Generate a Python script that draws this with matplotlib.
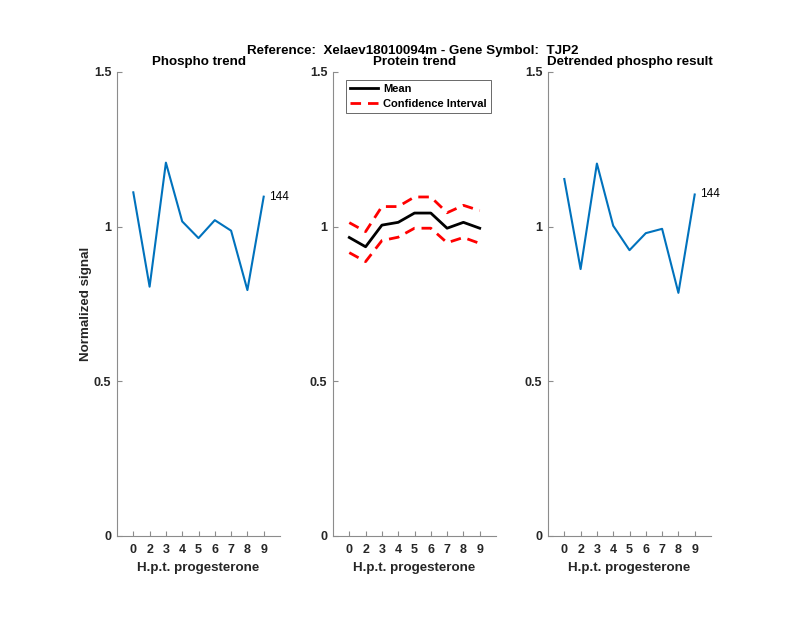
import numpy as np
import matplotlib
matplotlib.use("Agg")
import matplotlib.pyplot as plt

HOURS = ["0", "2", "3", "4", "5", "6", "7", "8", "9"]
PHOSPHO = [1.111, 0.806, 1.207, 1.017, 0.963, 1.021, 0.987, 0.795, 1.097]
PROT_MEAN = [0.965, 0.935, 1.005, 1.014, 1.044, 1.044, 0.995, 1.014, 0.995]
PROT_UP = [1.013, 0.984, 1.065, 1.065, 1.096, 1.096, 1.045, 1.069, 1.052]
PROT_LO = [0.916, 0.887, 0.955, 0.966, 0.995, 0.995, 0.948, 0.965, 0.946]
DETREND = [1.154, 0.863, 1.204, 1.003, 0.924, 0.979, 0.993, 0.786, 1.104]
LABEL = "144"
YTICKS = [0, 0.5, 1, 1.5]
YTICKLABELS = ["0", "0.5", "1", "1.5"]

BLUE = "#0072BD"
AXC = "#8c8c8c"
TXT = "#262626"
plt.rcParams.update({"font.family": ["Liberation Sans", "DejaVu Sans"],
                     "font.size": 9})

fig = plt.figure(figsize=(8, 6.18), dpi=100)
lefts = [117 / 800, 333 / 800, 548 / 800]
w = 163 / 800
b = (618 - 536) / 618
h = (536 - 72) / 618
axes = [fig.add_axes([l, b, w, h]) for l in lefts]
xs = np.arange(1, len(HOURS) + 1)

def style(ax, title):
    ax.set_xlim(0, 10)
    ax.set_ylim(0, 1.5)
    ax.set_xticks(xs, HOURS)
    ax.set_yticks(YTICKS, YTICKLABELS)
    for s in ("top", "right"):
        ax.spines[s].set_visible(False)
    for s in ("left", "bottom"):
        ax.spines[s].set_color(AXC)
        ax.spines[s].set_linewidth(0.8)
    ax.tick_params(direction="in", length=3.5, color=AXC, width=0.8,
                   labelsize=9, labelcolor=TXT)
    ax.tick_params(axis="x", pad=6)
    ax.tick_params(axis="y", pad=4)
    for t in ax.get_xticklabels() + ax.get_yticklabels():
        t.set_fontweight("bold")
    ax.set_xlabel("H.p.t. progesterone", fontsize=9.6, fontweight="bold",
                  color=TXT, labelpad=4)
    ax.set_title(title, fontsize=9.6, fontweight="bold", pad=5)

ax = axes[0]
ax.plot(xs, PHOSPHO, color=BLUE, lw=1.5)
ax.text(xs[-1] + 0.33, PHOSPHO[-1], LABEL, fontsize=8.5, va="center", ha="left")
style(ax, "Phospho trend")
ax.set_ylabel("Normalized signal", fontsize=9.6, fontweight="bold",
              color=TXT, labelpad=1.5)

ax = axes[1]
ax.plot(xs, PROT_MEAN, color="black", lw=2, label="Mean")
ax.plot(xs, PROT_UP, color="red", lw=2, ls=(0, (3.8, 2.5)), label="Confidence Interval")
ax.plot(xs, PROT_LO, color="red", lw=2, ls=(0, (3.8, 2.5)))
style(ax, "Protein trend")
leg = ax.legend(loc="upper left", bbox_to_anchor=(0.078, 0.983), fontsize=8,
                frameon=True, fancybox=False, borderpad=0.35, handlelength=2.6,
                handletextpad=0.45, labelspacing=0.45, borderaxespad=0)
leg.get_frame().set_edgecolor(TXT)
leg.get_frame().set_linewidth(0.6)
for t in leg.get_texts():
    t.set_fontweight("bold")

ax = axes[2]
ax.plot(xs, DETREND, color=BLUE, lw=1.5)
ax.text(xs[-1] + 0.33, DETREND[-1], LABEL, fontsize=8.5, va="center", ha="left")
style(ax, "Detrended phospho result")

fig.suptitle("Reference:  Xelaev18010094m - Gene Symbol:  TJP2", x=413 / 800,
             y=1 - 51 / 618, va="center", fontsize=9.6, fontweight="bold")
fig.savefig("out.png", dpi=100, facecolor="white")
